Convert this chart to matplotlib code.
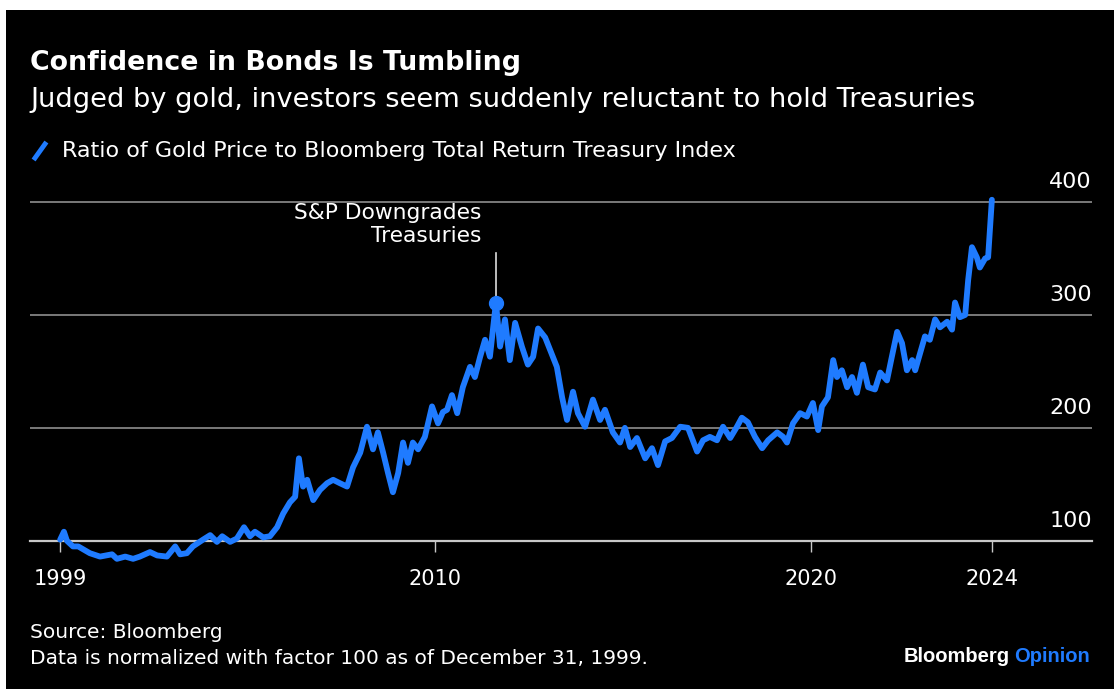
import matplotlib.pyplot as plt
from matplotlib.patches import Rectangle
from matplotlib.lines import Line2D
import matplotlib.transforms as mtransforms

plt.rcParams['font.family'] = ['DejaVu Sans']

# ratio of gold to the Treasury total return index, decimal years
years = [2000.03, 2000.13, 2000.21, 2000.37, 2000.51, 2000.82, 2001.09, 2001.41,
         2001.54, 2001.76, 2001.97, 2002.15, 2002.42, 2002.61, 2002.87, 2003.09,
         2003.22, 2003.40, 2003.56, 2003.83, 2004.02, 2004.20, 2004.34, 2004.55,
         2004.73, 2004.92, 2005.08, 2005.21, 2005.43, 2005.61, 2005.80, 2005.96,
         2006.14, 2006.28, 2006.38, 2006.49, 2006.60, 2006.76, 2006.94, 2007.13,
         2007.29, 2007.47, 2007.66, 2007.82, 2008.01, 2008.19, 2008.35, 2008.48,
         2008.62, 2008.75, 2008.88, 2009.02, 2009.15, 2009.28, 2009.41, 2009.55,
         2009.73, 2009.92, 2010.08, 2010.21, 2010.32, 2010.45, 2010.59, 2010.74,
         2010.93, 2011.06, 2011.20, 2011.33, 2011.46, 2011.62, 2011.73, 2011.86,
         2011.99, 2012.13, 2012.31, 2012.47, 2012.61, 2012.74, 2012.93, 2013.06,
         2013.24, 2013.38, 2013.51, 2013.67, 2013.80, 2013.99, 2014.20, 2014.39,
         2014.52, 2014.73, 2014.92, 2015.05, 2015.19, 2015.37, 2015.59, 2015.77,
         2015.93, 2016.12, 2016.30, 2016.52, 2016.73, 2016.97, 2017.13, 2017.31,
         2017.50, 2017.66, 2017.85, 2018.03, 2018.16, 2018.32, 2018.51, 2018.70,
         2018.86, 2019.10, 2019.26, 2019.36, 2019.52, 2019.71, 2019.89, 2020.05,
         2020.19, 2020.29, 2020.45, 2020.59, 2020.69, 2020.82, 2020.96, 2021.09,
         2021.22, 2021.38, 2021.52, 2021.70, 2021.84, 2022.02, 2022.15, 2022.29,
         2022.42, 2022.55, 2022.69, 2022.77, 2022.90, 2023.03, 2023.16, 2023.30,
         2023.43, 2023.62, 2023.75, 2023.83, 2023.96, 2024.10, 2024.18, 2024.28,
         2024.41, 2024.49, 2024.63, 2024.71, 2024.81]
ratio = [101, 108, 100, 95, 95, 89, 86, 88,
         84, 86, 84, 86, 90, 87, 86, 95,
         88, 89, 95, 101, 105, 99, 104, 99,
         102, 112, 104, 108, 103, 104, 112, 124,
         134, 139, 173, 148, 154, 136, 145, 151,
         154, 151, 148, 165, 178, 201, 181, 196,
         178, 160, 143, 160, 187, 169, 187, 181,
         192, 219, 204, 214, 216, 229, 213, 236,
         254, 245, 263, 278, 263, 311, 272, 296,
         260, 293, 272, 256, 263, 288, 280, 269,
         254, 227, 207, 232, 213, 201, 225, 207,
         216, 196, 187, 200, 183, 191, 173, 182,
         167, 188, 191, 201, 200, 179, 189, 192,
         189, 201, 191, 201, 209, 205, 192, 182,
         189, 196, 192, 187, 204, 213, 210, 222,
         198, 219, 227, 260, 245, 251, 236, 245,
         231, 256, 236, 234, 249, 242, 263, 285,
         275, 251, 260, 251, 266, 281, 278, 296,
         289, 294, 287, 311, 298, 300, 331, 360,
         351, 342, 350, 351, 402]

downgrade_year = 2011.62
downgrade_value = 311

y_ticks = [100, 200, 300, 400]
x_ticks = [2000.03, 2010, 2020, 2024.81]
x_labels = ['1999', '2010', '2020', '2024']

blue = '#1f7bff'
W, H = 1115, 689

fig = plt.figure(figsize=(W / 100, H / 100), dpi=100, facecolor='white')
# black card behind everything
fig.patches.append(Rectangle((6 / W, 0), 1 - 7 / W, 1 - 10 / H,
                             transform=fig.transFigure, facecolor='black',
                             edgecolor='none', zorder=-5))

ax = fig.add_axes([30 / W, 1 - 569 / H, 1062 / W, 389 / H])
ax.set_facecolor('none')
ax.set_xlim(1999.228, 2027.473)
ax.set_ylim(75, 419.5)

for v in y_ticks[1:]:
    ax.axhline(v, color='#7a7a7a', lw=1.4, zorder=1)

ax.plot(years, ratio, color=blue, lw=4.2, solid_joinstyle='round',
        solid_capstyle='round', zorder=3)

for s in ['top', 'left', 'right']:
    ax.spines[s].set_visible(False)
ax.spines['bottom'].set_position(('data', 100))
ax.spines['bottom'].set_color('#c8c8c8')
ax.spines['bottom'].set_linewidth(1.6)
ax.spines['bottom'].set_zorder(2)
ax.set_yticks([])
ax.set_xticks(x_ticks)
ax.set_xticklabels(x_labels)
ax.tick_params(axis='x', direction='out', length=8, width=1, color='#c8c8c8',
               labelcolor='white', labelsize=15, pad=12)

trans = mtransforms.blended_transform_factory(ax.transAxes, ax.transData)
for v in y_ticks:
    ax.text(1.0, v + 9, str(v), transform=trans, ha='right', va='bottom',
            color='white', fontsize=16)

# S&P downgrade marker
ax.plot([downgrade_year], [downgrade_value], 'o', color=blue, ms=10, zorder=4)
ax.plot([downgrade_year, downgrade_year], [downgrade_value + 6, 355],
        color='#dddddd', lw=1.2, zorder=2)
ax.text(downgrade_year - 0.38, 380, 'S&P Downgrades\nTreasuries', ha='right',
        va='center', color='white', fontsize=15.7, linespacing=1.2)

# titles
fig.text(30 / W, 1 - 63 / H, 'Confidence in Bonds Is Tumbling', color='white',
         fontsize=19.3, fontweight='bold', va='center', ha='left')
fig.text(30 / W, 1 - 100 / H,
         'Judged by gold, investors seem suddenly reluctant to hold Treasuries',
         color='white', fontsize=19.6, va='center', ha='left')

# legend
fig.lines.append(Line2D([35 / W, 45 / W], [1 - 158 / H, 1 - 144 / H],
                        transform=fig.transFigure, color=blue, lw=3.5))
fig.text(62 / W, 1 - 151 / H,
         'Ratio of Gold Price to Bloomberg Total Return Treasury Index',
         color='white', fontsize=16, va='center', ha='left')

# footer
fig.text(30 / W, 1 - 633 / H, 'Source: Bloomberg', color='white',
         fontsize=14.5, va='center', ha='left')
fig.text(30 / W, 1 - 659 / H,
         'Data is normalized with factor 100 as of December 31, 1999.',
         color='white', fontsize=14.5, va='center', ha='left')
t = fig.text(1090 / W, 1 - 656 / H, 'Opinion', color=blue, fontsize=14.5,
             family='Liberation Sans', fontweight='bold', va='center', ha='right')
fig.canvas.draw()
bb = t.get_window_extent()
fig.text(bb.x0 / W - 4 / W, 1 - 656 / H, 'Bloomberg', color='white',
         fontsize=14.5, family='Liberation Sans', fontweight='bold',
         va='center', ha='right')

fig.savefig('out.png', dpi=100, facecolor='white')
